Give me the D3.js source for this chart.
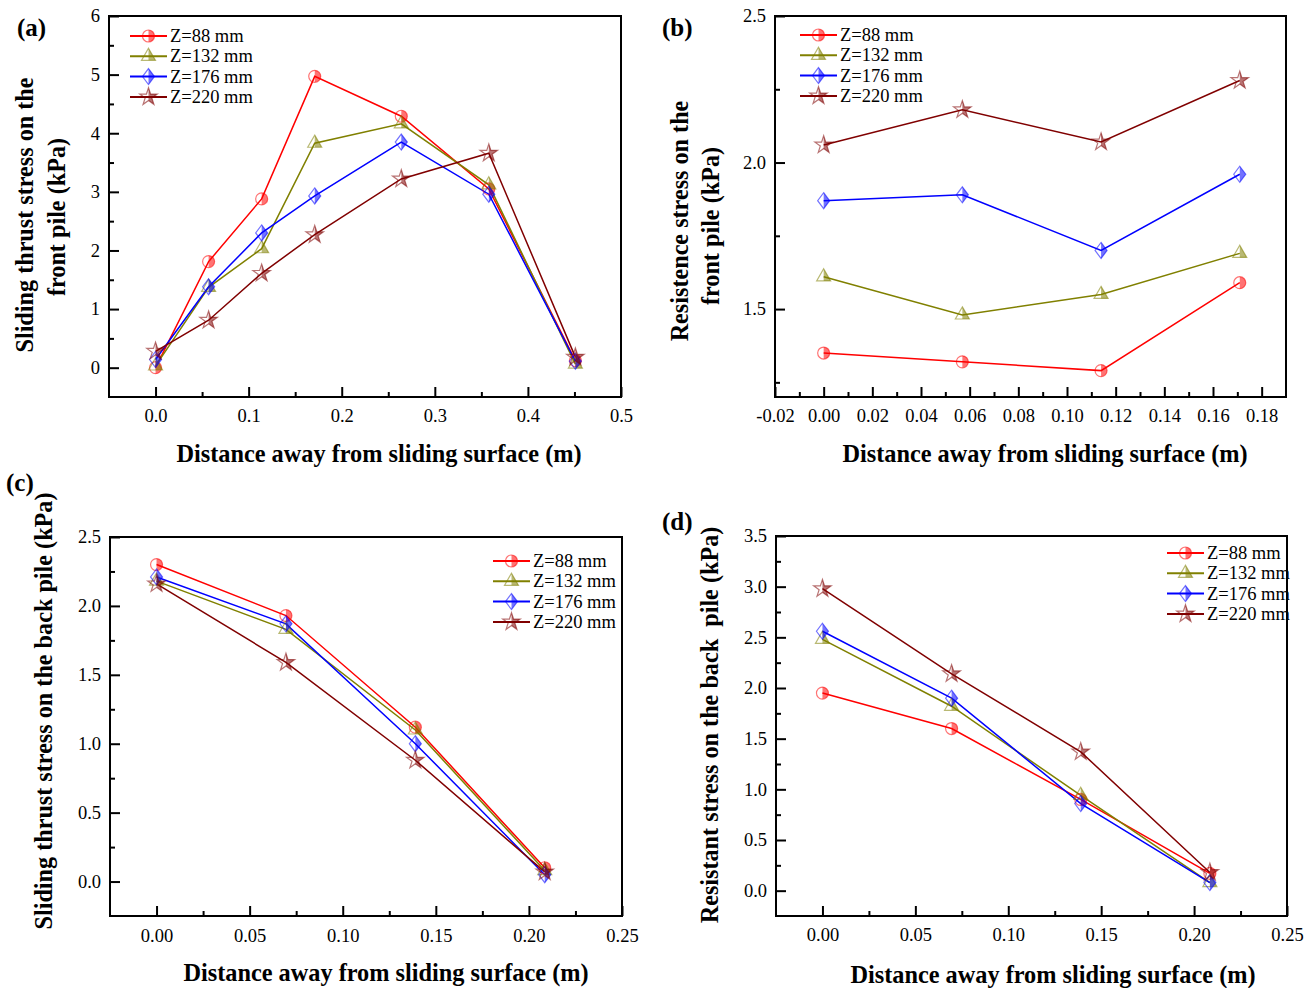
<!DOCTYPE html>
<html><head><meta charset="utf-8">
<script src="https://cdn.jsdelivr.net/npm/d3@7"></script>
<style>
body{margin:0;background:#fff;}
svg{display:block;font-family:"Times New Roman","Liberation Serif",serif;}
</style></head><body>
<svg id="chart" width="1312" height="988"></svg>
<script>
// ---------- data ----------
const seriesNames = ["Z=88 mm", "Z=132 mm", "Z=176 mm", "Z=220 mm"];

// (a) sliding thrust stress on the front pile
const distA = [0, 0.057, 0.114, 0.171, 0.264, 0.358, 0.451];
const aZ88  = [0.00, 1.81, 2.88, 4.97, 4.29, 3.05, 0.12];
const aZ132 = [0.03, 1.37, 2.03, 3.83, 4.16, 3.12, 0.06];
const aZ176 = [0.14, 1.38, 2.30, 2.93, 3.85, 2.96, 0.11];
const aZ220 = [0.28, 0.81, 1.61, 2.27, 3.22, 3.66, 0.18];

// (b) resistence stress on the front pile
const distB = [0, 0.057, 0.114, 0.171];
const bZ88  = [1.35, 1.32, 1.29, 1.59];
const bZ132 = [1.61, 1.48, 1.55, 1.69];
const bZ176 = [1.87, 1.89, 1.70, 1.96];
const bZ220 = [2.06, 2.18, 2.07, 2.28];

// (c) sliding thrust stress on the back pile
const distC = [0, 0.0695, 0.139, 0.2085];
const cZ88  = [2.30, 1.93, 1.12, 0.10];
const cZ132 = [2.18, 1.83, 1.10, 0.08];
const cZ176 = [2.21, 1.87, 1.00, 0.05];
const cZ220 = [2.16, 1.59, 0.88, 0.07];

// (d) resistant stress on the back pile
const distD = [0, 0.0695, 0.139, 0.2085];
const dZ88  = [1.95, 1.60, 0.90, 0.17];
const dZ132 = [2.48, 1.82, 0.94, 0.08];
const dZ176 = [2.56, 1.90, 0.86, 0.08];
const dZ220 = [2.98, 2.14, 1.37, 0.18];

// tick values and labels
const aXTicks = [0, 0.1, 0.2, 0.3, 0.4, 0.5];
const aXLabels = ["0.0", "0.1", "0.2", "0.3", "0.4", "0.5"];
const aXMinor = [0.05, 0.15, 0.25, 0.35, 0.45];
const aYTicks = [0, 1, 2, 3, 4, 5, 6];
const aYLabels = ["0", "1", "2", "3", "4", "5", "6"];
const aYMinor = [0.5, 1.5, 2.5, 3.5, 4.5, 5.5];

const bXTicks = [-0.02, 0, 0.02, 0.04, 0.06, 0.08, 0.10, 0.12, 0.14, 0.16, 0.18];
const bXLabels = ["-0.02", "0.00", "0.02", "0.04", "0.06", "0.08", "0.10", "0.12", "0.14", "0.16", "0.18"];
const bXMinor = [-0.01, 0.01, 0.03, 0.05, 0.07, 0.09, 0.11, 0.13, 0.15, 0.17];
const bYTicks = [1.5, 2.0, 2.5];
const bYLabels = ["1.5", "2.0", "2.5"];
const bYMinor = [1.25, 1.75, 2.25];

const cdXTicks = [0, 0.05, 0.10, 0.15, 0.20, 0.25];
const cdXLabels = ["0.00", "0.05", "0.10", "0.15", "0.20", "0.25"];
const cdXMinor = [0.025, 0.075, 0.125, 0.175, 0.225];
const cYTicks = [0, 0.5, 1.0, 1.5, 2.0, 2.5];
const cYLabels = ["0.0", "0.5", "1.0", "1.5", "2.0", "2.5"];
const cYMinor = [0.25, 0.75, 1.25, 1.75, 2.25];
const dYTicks = [0, 0.5, 1.0, 1.5, 2.0, 2.5, 3.0, 3.5];
const dYLabels = ["0.0", "0.5", "1.0", "1.5", "2.0", "2.5", "3.0", "3.5"];
const dYMinor = [0.25, 0.75, 1.25, 1.75, 2.25, 2.75, 3.25];

// ---------- styles ----------
const colors = ["#ff0000", "#808000", "#0000ff", "#800000"];
const symbols = ["circle", "triangle", "diamond", "star"];

const svg = d3.select("#chart");
svg.append("rect").attr("width", 1312).attr("height", 988).attr("fill", "#fff");
const defs = svg.append("defs");
defs.append("clipPath").attr("id", "rightHalf")
  .append("rect").attr("x", 0).attr("y", -20).attr("width", 20).attr("height", 40);

function symPath(type) {
  if (type === "circle") return d3.symbol(d3.symbolCircle, Math.PI * 36)();
  if (type === "triangle") return d3.symbol(d3.symbolTriangle, 85)();
  if (type === "diamond") return "M0,-8L6,0L0,8L-6,0Z";
  return d3.symbol(d3.symbolStar, 95)();
}

function marker(parent, cx, cy, k) {
  const g = parent.append("g").attr("transform", `translate(${cx},${cy})`);
  const p = symPath(symbols[k]);
  g.append("path").attr("d", p).attr("fill", colors[k]).attr("fill-opacity", 0.55)
    .attr("clip-path", "url(#rightHalf)");
  g.append("path").attr("d", p).attr("fill", "none").attr("stroke", colors[k])
    .attr("stroke-opacity", 0.55).attr("stroke-width", 1.2);
}

function panel(cfg) {
  const x = d3.scaleLinear().domain(cfg.xDomain).range([cfg.left, cfg.right]);
  const y = d3.scaleLinear().domain(cfg.yDomain).range([cfg.bottom, cfg.top]);
  const g = svg.append("g");

  function styleAxis(ax) {
    ax.select(".domain").remove();
    ax.attr("font-family", null).attr("font-size", 18.5);
    ax.selectAll("line").attr("stroke", "#000").attr("stroke-width", 2);
    ax.selectAll("text").attr("fill", "#000");
  }
  // x axis
  styleAxis(g.append("g").attr("transform", `translate(0,${cfg.bottom})`)
    .call(d3.axisBottom(x).tickValues(cfg.xMinor).tickSize(-5).tickFormat("")));
  styleAxis(g.append("g").attr("transform", `translate(0,${cfg.bottom})`)
    .call(d3.axisBottom(x).tickValues(cfg.xTicks).tickSize(-10).tickPadding(cfg.xPad)
      .tickFormat(d => cfg.xLabels[cfg.xTicks.indexOf(d)])));
  // y axis
  styleAxis(g.append("g").attr("transform", `translate(${cfg.left},0)`)
    .call(d3.axisLeft(y).tickValues(cfg.yMinor).tickSize(-5).tickFormat("")));
  styleAxis(g.append("g").attr("transform", `translate(${cfg.left},0)`)
    .call(d3.axisLeft(y).tickValues(cfg.yTicks).tickSize(-10).tickPadding(9)
      .tickFormat(d => cfg.yLabels[cfg.yTicks.indexOf(d)])));

  // lines
  const line = d3.line().x(d => x(d[0])).y(d => y(d[1]));
  cfg.series.forEach((vals, k) => {
    const pts = cfg.dist.map((d, i) => [d, vals[i]]);
    g.append("path").attr("d", line(pts)).attr("fill", "none")
      .attr("stroke", colors[k]).attr("stroke-width", 1.5);
  });
  cfg.series.forEach((vals, k) => {
    cfg.dist.forEach((d, i) => marker(g, x(d), y(vals[i]), k));
  });

  // legend
  const lg = cfg.legend;
  seriesNames.forEach((name, k) => {
    const yy = lg.y + k * 20.3;
    g.append("line").attr("x1", lg.x).attr("x2", lg.x + 37).attr("y1", yy).attr("y2", yy)
      .attr("stroke", colors[k]).attr("stroke-width", 2);
    marker(g, lg.x + 18.5, yy, k);
    g.append("text").attr("x", lg.x + 40).attr("y", yy + 6).attr("font-size", 18.5)
      .attr("fill", "#000").text(name);
  });

  // frame
  g.append("rect").attr("x", cfg.left).attr("y", cfg.top)
    .attr("width", cfg.right - cfg.left).attr("height", cfg.bottom - cfg.top)
    .attr("fill", "none").attr("stroke", "#000").attr("stroke-width", 2);

  // panel letter
  g.append("text").attr("x", cfg.letter[0]).attr("y", cfg.letter[1])
    .attr("font-size", 25).attr("font-weight", "bold").text(cfg.letter[2]);

  // x title
  g.append("text").attr("x", cfg.xTitle[0]).attr("y", cfg.xTitle[1])
    .attr("text-anchor", "middle").attr("font-size", 24.3).attr("font-weight", "bold")
    .text("Distance away from sliding surface (m)");

  // y title
  cfg.yTitle.forEach(t => {
    g.append("text").attr("transform", `translate(${t[0]},${t[1]}) rotate(-90)`)
      .attr("text-anchor", "middle").attr("font-size", 24.2).attr("font-weight", "bold")
      .style("white-space", "pre").text(t[2]);
  });
}

panel({
  left: 109, right: 621, top: 16, bottom: 397,
  xDomain: [-0.05, 0.5], yDomain: [-0.5, 6],
  xTicks: aXTicks, xLabels: aXLabels, xMinor: aXMinor, xPad: 12,
  yTicks: aYTicks, yLabels: aYLabels, yMinor: aYMinor,
  dist: distA, series: [aZ88, aZ132, aZ176, aZ220],
  legend: { x: 130, y: 36 },
  letter: [17, 36, "(a)"],
  xTitle: [379, 462],
  yTitle: [[33, 215, "Sliding thrust stress on the"], [65, 217, "front pile (kPa)"]]
});

panel({
  left: 775, right: 1286, top: 16, bottom: 397,
  xDomain: [-0.02, 0.19], yDomain: [1.2, 2.5],
  xTicks: bXTicks, xLabels: bXLabels, xMinor: bXMinor, xPad: 12,
  yTicks: bYTicks, yLabels: bYLabels, yMinor: bYMinor,
  dist: distB, series: [bZ88, bZ132, bZ176, bZ220],
  legend: { x: 800, y: 35 },
  letter: [662, 36, "(b)"],
  xTitle: [1045, 462],
  yTitle: [[688, 221, "Resistence stress on the"], [719, 226, "front pile (kPa)"]]
});

panel({
  left: 110, right: 622, top: 537, bottom: 916,
  xDomain: [-0.025, 0.25], yDomain: [-0.25, 2.5],
  xTicks: cdXTicks, xLabels: cdXLabels, xMinor: cdXMinor, xPad: 13,
  yTicks: cYTicks, yLabels: cYLabels, yMinor: cYMinor,
  dist: distC, series: [cZ88, cZ132, cZ176, cZ220],
  legend: { x: 493, y: 561 },
  letter: [6, 491, "(c)"],
  xTitle: [386, 981],
  yTitle: [[52, 711, "Sliding thrust stress on the back pile (kPa)"]]
});

panel({
  left: 776, right: 1287, top: 536, bottom: 916,
  xDomain: [-0.025, 0.25], yDomain: [-0.25, 3.5],
  xTicks: cdXTicks, xLabels: cdXLabels, xMinor: cdXMinor, xPad: 12,
  yTicks: dYTicks, yLabels: dYLabels, yMinor: dYMinor,
  dist: distD, series: [dZ88, dZ132, dZ176, dZ220],
  legend: { x: 1167, y: 553 },
  letter: [662, 530, "(d)"],
  xTitle: [1053, 983],
  yTitle: [[718, 725, "Resistant stress on the back  pile (kPa)"]]
});
</script>
</body></html>
